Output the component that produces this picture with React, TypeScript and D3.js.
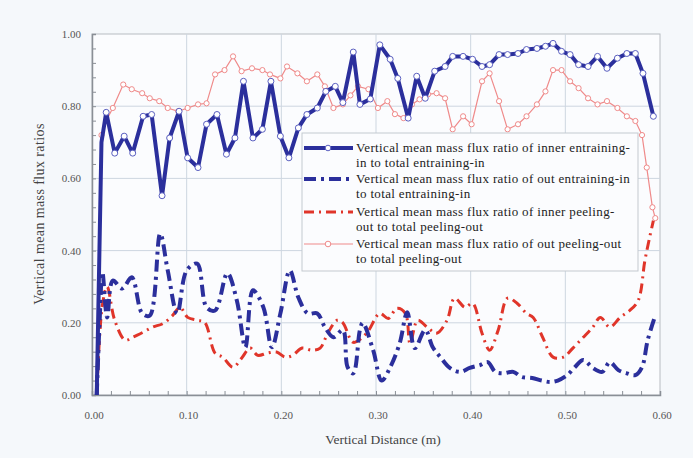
import React, { useEffect, useRef } from 'react';
import * as d3 from 'd3';

type Pt = [number, number];

// Vertical mean mass flux ratio of inner entraining-in to total entraining-in
const innerEntrainingIn: Pt[] = [
  [0.005, 0.0], [0.010, 0.70], [0.015, 0.783], [0.024, 0.67], [0.034, 0.717], [0.043, 0.67],
  [0.054, 0.772], [0.063, 0.777], [0.074, 0.552], [0.082, 0.712], [0.092, 0.786], [0.101, 0.657],
  [0.112, 0.63], [0.121, 0.75], [0.132, 0.777], [0.142, 0.667], [0.151, 0.712], [0.160, 0.869],
  [0.170, 0.712], [0.180, 0.736], [0.189, 0.869], [0.199, 0.717], [0.208, 0.657], [0.218, 0.74],
  [0.227, 0.777], [0.238, 0.795], [0.247, 0.841], [0.257, 0.855], [0.265, 0.81], [0.276, 0.95],
  [0.283, 0.805], [0.294, 0.82], [0.304, 0.97], [0.315, 0.93], [0.323, 0.877], [0.334, 0.767],
  [0.343, 0.883], [0.352, 0.822], [0.362, 0.897], [0.373, 0.91], [0.381, 0.938], [0.392, 0.938],
  [0.402, 0.93], [0.412, 0.91], [0.420, 0.915], [0.430, 0.943], [0.439, 0.943], [0.450, 0.946],
  [0.459, 0.957], [0.470, 0.96], [0.479, 0.966], [0.487, 0.974], [0.496, 0.952], [0.505, 0.943],
  [0.514, 0.915], [0.524, 0.91], [0.534, 0.938], [0.544, 0.905], [0.555, 0.933], [0.565, 0.946],
  [0.574, 0.946], [0.582, 0.891], [0.593, 0.772]
];

// Vertical mean mass flux ratio of out entraining-in to total entraining-in
const outEntrainingIn: Pt[] = [
  [0.005, 0.0], [0.008, 0.20], [0.011, 0.34], [0.016, 0.215], [0.022, 0.317], [0.032, 0.295],
  [0.042, 0.326], [0.053, 0.226], [0.061, 0.22], [0.072, 0.447], [0.080, 0.345], [0.090, 0.226],
  [0.100, 0.345], [0.111, 0.364], [0.121, 0.243], [0.130, 0.234], [0.143, 0.337], [0.153, 0.262],
  [0.162, 0.132], [0.170, 0.29], [0.181, 0.243], [0.190, 0.132], [0.199, 0.226], [0.209, 0.345],
  [0.218, 0.27], [0.228, 0.226], [0.238, 0.226], [0.246, 0.188], [0.255, 0.16], [0.265, 0.18],
  [0.270, 0.077], [0.276, 0.06], [0.283, 0.18], [0.286, 0.20], [0.297, 0.124], [0.306, 0.04],
  [0.315, 0.077], [0.325, 0.143], [0.333, 0.229], [0.341, 0.13], [0.352, 0.18], [0.360, 0.132],
  [0.368, 0.105], [0.378, 0.075], [0.389, 0.064], [0.399, 0.075], [0.410, 0.083], [0.418, 0.091],
  [0.426, 0.064], [0.434, 0.06], [0.445, 0.064], [0.454, 0.05], [0.465, 0.047], [0.475, 0.04],
  [0.484, 0.036], [0.492, 0.04], [0.502, 0.055], [0.510, 0.077], [0.519, 0.097], [0.529, 0.075],
  [0.539, 0.064], [0.547, 0.091], [0.556, 0.069], [0.565, 0.06], [0.574, 0.055], [0.581, 0.077],
  [0.587, 0.152], [0.595, 0.22]
];

// Vertical mean mass flux ratio of inner peeling-out to total peeling-out
const innerPeelingOut: Pt[] = [
  [0.005, 0.0], [0.011, 0.25], [0.016, 0.30], [0.024, 0.207], [0.035, 0.152], [0.043, 0.16],
  [0.054, 0.174], [0.064, 0.188], [0.075, 0.198], [0.085, 0.22], [0.093, 0.243], [0.101, 0.215],
  [0.111, 0.207], [0.119, 0.201], [0.130, 0.116], [0.138, 0.105], [0.149, 0.077], [0.158, 0.102],
  [0.167, 0.13], [0.175, 0.11], [0.185, 0.116], [0.195, 0.119], [0.204, 0.105], [0.212, 0.11],
  [0.222, 0.13], [0.232, 0.124], [0.241, 0.13], [0.249, 0.171], [0.259, 0.207], [0.265, 0.2],
  [0.276, 0.146], [0.290, 0.171], [0.304, 0.226], [0.313, 0.212], [0.322, 0.24], [0.331, 0.226],
  [0.336, 0.143], [0.344, 0.207], [0.354, 0.188], [0.364, 0.171], [0.375, 0.207], [0.383, 0.268],
  [0.394, 0.243], [0.402, 0.254], [0.412, 0.171], [0.420, 0.124], [0.429, 0.179], [0.439, 0.268],
  [0.449, 0.254], [0.459, 0.226], [0.466, 0.215], [0.476, 0.16], [0.487, 0.105], [0.498, 0.105],
  [0.508, 0.13], [0.519, 0.16], [0.529, 0.188], [0.537, 0.215], [0.547, 0.188], [0.558, 0.215],
  [0.568, 0.234], [0.577, 0.262], [0.584, 0.372], [0.589, 0.436], [0.593, 0.483]
];

// Vertical mean mass flux ratio of out peeling-out to total peeling-out
const outPeelingOut: Pt[] = [
  [0.005, 0.0], [0.010, 0.72], [0.015, 0.76], [0.022, 0.795], [0.033, 0.86], [0.042, 0.847],
  [0.053, 0.836], [0.061, 0.822], [0.071, 0.814], [0.080, 0.795], [0.091, 0.786], [0.101, 0.795],
  [0.112, 0.805], [0.121, 0.808], [0.130, 0.888], [0.140, 0.90], [0.149, 0.938], [0.158, 0.897],
  [0.169, 0.905], [0.180, 0.90], [0.188, 0.888], [0.199, 0.877], [0.206, 0.91], [0.217, 0.891],
  [0.227, 0.869], [0.238, 0.888], [0.246, 0.855], [0.255, 0.795], [0.265, 0.805], [0.273, 0.83],
  [0.281, 0.855], [0.292, 0.847], [0.302, 0.795], [0.312, 0.814], [0.320, 0.778], [0.329, 0.767],
  [0.338, 0.805], [0.346, 0.819], [0.355, 0.833], [0.364, 0.836], [0.373, 0.822], [0.381, 0.736],
  [0.392, 0.772], [0.401, 0.75], [0.412, 0.869], [0.420, 0.891], [0.430, 0.814], [0.439, 0.736],
  [0.450, 0.75], [0.459, 0.772], [0.470, 0.805], [0.479, 0.841], [0.487, 0.90], [0.496, 0.90],
  [0.505, 0.869], [0.514, 0.85], [0.524, 0.822], [0.534, 0.805], [0.544, 0.814], [0.555, 0.795],
  [0.565, 0.772], [0.574, 0.759], [0.581, 0.72], [0.586, 0.63], [0.592, 0.52], [0.595, 0.49]
];

const xTicks = [0, 0.1, 0.2, 0.3, 0.4, 0.5, 0.6];
const yTicks = [0, 0.2, 0.4, 0.6, 0.8, 1.0];

const legendLines = [
  ['Vertical mean mass flux ratio of inner entraining-', 'in to total entraining-in'],
  ['Vertical mean mass flux ratio of out entraining-in', 'to total entraining-in'],
  ['Vertical mean mass flux ratio of inner peeling-', 'out to total peeling-out'],
  ['Vertical mean mass flux ratio of out peeling-out', 'to total peeling-out']
];

const BLUE = '#2b2f9c';
const RED = '#e0352a';
const PINK = '#ef8a8a';
const SERIF = "'Liberation Serif', 'DejaVu Serif', serif";

const App = () => {
  const ref = useRef<SVGSVGElement>(null);

  useEffect(() => {
    if (!ref.current) return;
    const svg = d3.select(ref.current);
    svg.selectAll('*').remove();

    const x = d3.scaleLinear().domain([0, 0.6]).range([92, 660]);
    const y = d3.scaleLinear().domain([0, 1]).range([395, 34]);

    svg.append('rect').attr('width', 693).attr('height', 458).attr('fill', '#f5f8fb');
    svg.append('rect')
      .attr('x', x(0)).attr('y', y(1))
      .attr('width', x(0.6) - x(0)).attr('height', y(0) - y(1))
      .attr('fill', '#fbfcfe').attr('stroke', '#b8bcc2');

    // grid
    svg.append('g').selectAll('line').data(xTicks.slice(1, -1)).join('line')
      .attr('x1', d => x(d)).attr('x2', d => x(d)).attr('y1', y(0)).attr('y2', y(1))
      .attr('stroke', '#cdd6e0').attr('stroke-width', 1);
    svg.append('g').selectAll('line').data(yTicks.slice(1, -1)).join('line')
      .attr('y1', d => y(d)).attr('y2', d => y(d)).attr('x1', x(0)).attr('x2', x(0.6))
      .attr('stroke', '#cdd6e0').attr('stroke-width', 1);

    // axes with inner ticks
    const xAxis = svg.append('g').attr('transform', `translate(0,${y(0)})`)
      .call(d3.axisBottom(x).tickValues(d3.range(0, 0.6001, 0.02)).tickSize(-4).tickFormat(() => ''));
    xAxis.select('.domain').attr('stroke', '#8a8f96').attr('stroke-width', 1.5);
    xAxis.selectAll('.tick line').attr('stroke', '#8a8f96');
    const yAxis = svg.append('g').attr('transform', `translate(${x(0)},0)`)
      .call(d3.axisLeft(y).tickValues(d3.range(0, 1.0001, 0.04)).tickSize(-4).tickFormat(() => ''));
    yAxis.select('.domain').attr('stroke', '#8a8f96').attr('stroke-width', 1.5);
    yAxis.selectAll('.tick line').attr('stroke', '#8a8f96');

    svg.append('g').selectAll('text').data(xTicks).join('text')
      .attr('x', d => x(d) + 2).attr('y', 419).attr('text-anchor', 'middle')
      .attr('font-family', SERIF).attr('font-size', 11).attr('fill', '#555')
      .text(d => d.toFixed(2));
    svg.append('g').selectAll('text').data(yTicks).join('text')
      .attr('x', 81).attr('y', d => y(d) + 4).attr('text-anchor', 'end')
      .attr('font-family', SERIF).attr('font-size', 11).attr('fill', '#555')
      .text(d => d.toFixed(2));

    svg.append('text').attr('x', 383).attr('y', 444).attr('text-anchor', 'middle')
      .attr('font-family', SERIF).attr('font-size', 13.5).attr('fill', '#444')
      .text('Vertical Distance (m)');
    svg.append('text').attr('transform', 'translate(44,214) rotate(-90)').attr('text-anchor', 'middle')
      .attr('font-family', SERIF).attr('font-size', 14).attr('letter-spacing', 0.4).attr('fill', '#444')
      .text('Vertical mean mass flux ratios');

    const line = d3.line<Pt>().x(d => x(d[0])).y(d => y(d[1]));
    const smooth = d3.line<Pt>().x(d => x(d[0])).y(d => y(d[1])).curve(d3.curveCatmullRom.alpha(0.5));

    const plot = svg.append('g');
    plot.append('path').datum(innerPeelingOut).attr('d', smooth)
      .attr('fill', 'none').attr('stroke', RED).attr('stroke-width', 3).attr('stroke-dasharray', '10,5,2,5');
    plot.append('path').datum(outEntrainingIn).attr('d', smooth)
      .attr('fill', 'none').attr('stroke', BLUE).attr('stroke-width', 4).attr('stroke-dasharray', '12,5,3,5');
    plot.append('path').datum(outPeelingOut).attr('d', line)
      .attr('fill', 'none').attr('stroke', PINK).attr('stroke-width', 1.2);
    plot.append('g').selectAll('circle').data(outPeelingOut.slice(1)).join('circle')
      .attr('cx', d => x(d[0])).attr('cy', d => y(d[1])).attr('r', 2.6)
      .attr('fill', '#fff').attr('stroke', PINK).attr('stroke-width', 1);
    plot.append('path').datum(innerEntrainingIn).attr('d', line)
      .attr('fill', 'none').attr('stroke', BLUE).attr('stroke-width', 4).attr('stroke-linejoin', 'round');
    plot.append('g').selectAll('circle').data(innerEntrainingIn.slice(2)).join('circle')
      .attr('cx', d => x(d[0])).attr('cy', d => y(d[1])).attr('r', 3)
      .attr('fill', '#fff').attr('stroke', '#5a5fc0').attr('stroke-width', 1);

    // legend
    const lg = svg.append('g');
    lg.append('rect').attr('x', 302).attr('y', 133).attr('width', 336).attr('height', 138)
      .attr('fill', '#fbfcfe').attr('stroke', '#c4c9cf');
    const rowY = [148, 179, 212, 244];
    const styles = [
      { stroke: BLUE, w: 4, dash: null, marker: true, mStroke: '#5a5fc0' },
      { stroke: BLUE, w: 4, dash: '12,5,3,5', marker: false, mStroke: '' },
      { stroke: RED, w: 3, dash: '10,5,2,5', marker: false, mStroke: '' },
      { stroke: PINK, w: 1.2, dash: null, marker: true, mStroke: PINK }
    ];
    legendLines.forEach((lines, i) => {
      const s = styles[i];
      const ly = rowY[i];
      const l = lg.append('line').attr('x1', 304).attr('x2', 353).attr('y1', ly).attr('y2', ly)
        .attr('stroke', s.stroke).attr('stroke-width', s.w);
      if (s.dash) l.attr('stroke-dasharray', s.dash);
      if (s.marker) {
        lg.append('circle').attr('cx', 328).attr('cy', ly).attr('r', 2.8)
          .attr('fill', '#fff').attr('stroke', s.mStroke).attr('stroke-width', 1);
      }
      lines.forEach((t, j) => {
        lg.append('text').attr('x', 356).attr('y', ly + 4 + j * 15)
          .attr('font-family', SERIF).attr('font-size', 13).attr('letter-spacing', 0.35).attr('fill', '#222')
          .text(t);
      });
    });
  }, []);

  return (
    <svg
      ref={ref}
      width={693}
      height={458}
      style={{ position: 'absolute', left: 0, top: 0 }}
    />
  );
};

export default App;
